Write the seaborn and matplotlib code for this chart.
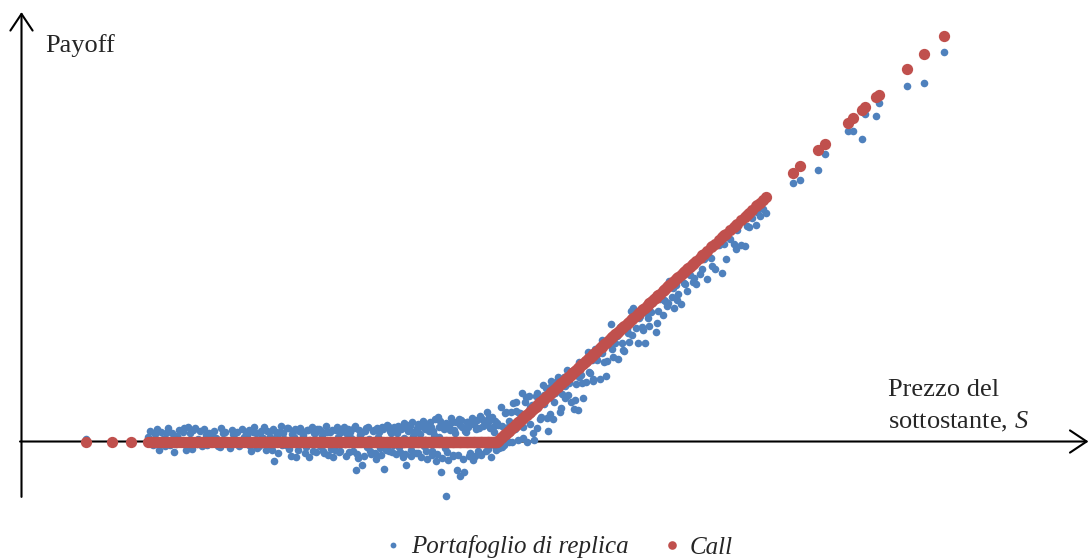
import numpy as np
import pandas as pd
import matplotlib
matplotlib.use("Agg")
import matplotlib.pyplot as plt
from matplotlib.lines import Line2D
import seaborn as sns

# Simulated underlying prices at expiry and value of the replicating portfolio
strike = 100.0

spot = [
    17.8, 23.0, 26.8,
    30.2, 30.9, 31.6, 32.4, 33.1, 33.8, 34.6, 35.3, 36.0, 36.7,
    37.4, 38.1, 38.9, 39.5, 40.2, 41.0, 41.7, 42.3, 43.0, 43.8,
    44.5, 45.1, 45.8, 46.6, 47.2, 47.9, 48.6, 49.3,
    50.0, 50.5, 51.1, 51.6, 52.0, 52.6, 53.1, 53.5, 54.0, 54.6,
    55.0, 55.4, 56.0, 56.5, 56.9, 57.4, 58.0, 58.4, 58.9, 59.4,
    59.8, 60.3, 60.8, 61.2, 61.7, 62.2, 62.6, 63.1, 63.6, 64.0,
    64.5, 65.0, 65.4, 65.9, 66.3, 66.8, 67.2, 67.7, 68.1, 68.6,
    69.0, 69.5, 69.9, 70.4, 70.8, 71.3, 71.8, 72.2, 72.6, 73.0,
    73.5, 73.9, 74.4, 74.8, 75.3, 75.7, 76.1, 76.6, 77.0, 77.4,
    77.9, 78.3, 78.8, 79.2, 79.6,
    80.0, 80.4, 80.7, 81.1, 81.4, 81.8, 82.1, 82.5, 82.8, 83.2,
    83.5, 83.9, 84.2, 84.6, 84.9, 85.3, 85.6, 86.0, 86.3, 86.7,
    87.0, 87.4, 87.7, 88.1, 88.4, 88.8, 89.1, 89.5, 89.8, 90.2,
    90.5, 90.9, 91.2, 91.6, 91.9, 92.3, 92.6, 93.0, 93.3, 93.7,
    94.0, 94.4, 94.7, 95.1, 95.4, 95.8, 96.1, 96.5, 96.8, 97.2,
    97.5, 97.9, 98.2, 98.6, 98.9, 99.3, 99.6,
    100.0, 100.3, 100.7, 101.0, 101.4, 101.7, 102.1, 102.4, 102.8, 103.1,
    103.5, 103.8, 104.2, 104.5, 104.9, 105.2, 105.6, 105.9, 106.3, 106.6,
    107.0, 107.3, 107.7, 108.0, 108.4, 108.7, 109.1, 109.4, 109.8, 110.1,
    110.5, 110.8, 111.2, 111.5, 111.9, 112.2, 112.6, 112.9, 113.3, 113.6,
    114.0, 114.3, 114.7, 115.0, 115.4, 115.7, 116.1, 116.4, 116.8, 117.1,
    117.5, 117.8, 118.2, 118.5, 118.9, 119.2, 119.6,
    120.0, 120.5, 120.9, 121.4, 121.8, 122.3, 122.7, 123.2, 123.6, 124.1,
    124.5, 125.0, 125.4, 125.9, 126.3, 126.8, 127.2, 127.7, 128.1, 128.6,
    129.0, 129.5, 129.9, 130.4, 130.8, 131.3, 131.7, 132.2, 132.6, 133.1,
    133.5, 134.0, 134.4, 134.9, 135.3, 135.8, 136.2, 136.7, 137.1, 137.6,
    138.0, 138.5, 138.9, 139.4, 139.8,
    140.5, 141.3, 142.0, 142.8, 143.5, 144.3, 145.0, 145.8, 146.5, 147.3,
    148.0, 148.8, 149.5, 150.3, 151.0, 151.8, 152.5, 153.2, 153.8,
    159.2, 160.6, 164.2, 165.6, 170.2, 171.2, 173.0, 173.6, 175.8, 176.4,
    182.0, 185.4, 189.4,
    # second batch of paths
    30.5, 31.2, 32.0, 32.8, 33.5, 34.2, 35.0, 35.7, 36.4, 37.1,
    37.8, 38.5, 39.2, 39.9, 40.6, 41.3, 42.0, 42.7, 43.4, 44.1,
    44.8, 45.5, 46.2, 46.9, 47.6, 48.3, 49.0, 49.7,
    50.3, 50.8, 51.3, 51.8, 52.3, 52.8, 53.3, 53.8, 54.3, 54.8,
    55.2, 55.7, 56.2, 56.7, 57.2, 57.7, 58.2, 58.7, 59.2, 59.6,
    60.1, 60.6, 61.0, 61.5, 62.0, 62.4, 62.9, 63.4, 63.8, 64.3,
    64.8, 65.2, 65.7, 66.1, 66.6, 67.0, 67.5, 67.9, 68.4, 68.8,
    69.3, 69.7, 70.2, 70.6, 71.1, 71.5, 72.0, 72.4, 72.8, 73.3,
    73.7, 74.2, 74.6, 75.1, 75.5, 75.9, 76.4, 76.8, 77.2, 77.7,
    78.1, 78.6, 79.0, 79.4, 79.8,
    80.2, 80.6, 80.9, 81.3, 81.6, 82.0, 82.3, 82.7, 83.0, 83.4,
    83.7, 84.1, 84.4, 84.8, 85.1, 85.5, 85.8, 86.2, 86.5, 86.9,
    87.2, 87.6, 87.9, 88.3, 88.6, 89.0, 89.3, 89.7, 90.0, 90.4,
    90.7, 91.1, 91.4, 91.8, 92.1, 92.5, 92.8, 93.2, 93.5, 93.9,
    94.2, 94.6, 94.9, 95.3, 95.6, 96.0, 96.3, 96.7, 97.0, 97.4,
    97.7, 98.1, 98.4, 98.8, 99.1, 99.5, 99.8,
    100.2, 100.9, 101.6, 102.3, 103.0, 103.7, 104.4, 105.1, 105.8, 106.5,
    107.2, 107.9, 108.6, 109.3, 110.0, 110.7, 111.4, 112.1, 112.8, 113.5,
    114.2, 114.9, 115.6, 116.3, 117.0, 117.7, 118.4, 119.1, 119.8,
    121.0, 122.0, 123.0, 124.0, 125.2, 126.1, 127.0, 128.3, 129.2, 130.1,
    131.0, 132.0, 133.3, 134.2, 135.1, 136.0, 137.3, 138.2, 139.1, 141.0,
    143.0, 145.4, 147.7, 150.0, 152.0,
]

replica = [
    0.6, 0.1, -0.2,
    0.9, -0.4, 1.6, -1.8, 0.5, 1.9, -0.7, -2.3, 1.2, 0.3,
    3.0, 3.1, -1.7, 2.9, 0.6, -0.9, 1.4, 1.8, -0.3, 0.8,
    -1.2, 1.9, 0.4, -1.5, 1.7, 2.0, -0.6, 1.1,
    1.5, -1.0, 2.2, 0.2, -1.4, 1.8, 0.7, -0.5, 2.4, 1.0,
    -1.9, -4.4, 1.3, 2.1, -0.8, 0.5, 3.0, -1.6, 1.7, 0.9,
    -3.5, 2.3, -0.2, 1.5, -1.3, 2.6, 0.4, -2.1, 1.9, 2.8,
    -0.9, 1.2, -2.5, 2.2, 0.1, -1.7, -3.5, 2.5, 1.1, -2.0,
    2.7, -0.6, 1.6, -2.4, 0.8, 2.9, -6.2, -3.7, 1.4, -5.1,
    2.4, -1.1, 0.6, -2.8, 2.6, -3.9, 1.0, -1.5, 3.1, -6.1,
    3.6, -2.2, 1.8, -0.7, 2.5,
    1.9, -1.2, 2.8, -3.5, 0.7, -5.1, 2.3, 3.4, -1.8, 1.2,
    -0.4, 2.9, -2.6, 1.6, 3.8, -1.0, 0.3, -3.9, 2.4, 3.2,
    -2.2, 1.5, -4.3, 5.3, 0.9, -6.8, 3.7, -1.4, -12.1, -4.1,
    2.6, 4.2, -2.9, 1.8, -6.2, 5.0, -7.7, 3.3, -6.8, 2.1,
    4.4, -3.2, 3.9, -4.1, 4.8, 2.7, -2.0, 5.6, -3.0, 3.5,
    4.6, 6.4, -1.6, 3.0, 5.5, 2.2, -0.9,
    4.1, -1.5, 7.6, 3.5, -0.8, 6.5, 3.3, -0.2, 6.4, 8.4,
    2.8, 6.7, 0.4, 6.2, 10.6, 3.3, 8.8, -0.1, 10.1, 3.8,
    8.1, 0.4, 10.1, 3.0, 9.0, 5.4, 12.5, 8.2, 11.7, 2.4,
    6.0, 13.4, 4.9, 10.7, 13.4, 14.2, 6.5, 10.5, 14.2, 9.6,
    15.8, 12.8, 8.8, 15.5, 7.2, 12.6, 7.0, 17.6, 14.6, 9.5,
    17.1, 13.1, 19.8, 15.0, 17.9, 13.8, 20.4,
    17.9, 13.7, 22.3, 17.5, 14.4, 21.7, 25.8, 18.6, 21.8, 18.1,
    25.2, 21.8, 19.9, 24.8, 21.9, 28.7, 29.4, 25.0, 21.7, 27.7,
    25.2, 21.6, 28.3, 25.4, 28.5, 31.9, 24.1, 28.8, 31.4, 27.9,
    30.9, 29.9, 35.3, 31.9, 29.5, 34.4, 32.5, 30.3, 36.6, 34.7,
    33.2, 36.6, 39.3, 36.1, 34.7,
    36.8, 40.1, 35.9, 40.4, 37.9, 43.3, 37.1, 40.1, 44.5, 43.4,
    46.5, 43.3, 43.1, 47.2, 49.3, 47.6, 49.7, 51.3, 50.3,
    57.0, 57.5, 59.8, 63.4, 68.4, 68.3, 66.6, 72.1, 71.8, 74.6,
    78.3, 79.0, 85.7,
    # second batch of paths
    2.4, -0.7, 2.7, 2.1, -0.9, 3.0, 1.8, -0.5, 2.5, 2.2,
    -1.9, 1.9, 2.6, -0.6, 2.3, 2.8, -0.8, 1.7, 2.4, -1.0,
    2.9, 2.0, -0.4, 2.6, 1.9, -0.9, 2.7, 2.2,
    2.6, -2.2, 3.1, 1.9, -0.9, 2.4, 3.3, -1.8, 2.0, -1.1,
    2.8, 2.2, -2.5, 3.4, 1.8, -0.7, 2.9, -3.2, 2.3, 2.7,
    -1.9, 3.0, 2.1, -2.6, 2.5, -3.4, 3.2, 1.9, -2.3, 2.8,
    2.4, -2.0, 3.5, -2.9, 2.2, 2.6, -1.8, 3.1, -2.4, 2.0,
    3.3, -3.1, 2.7, 2.1, -2.2, 3.4, -2.7, 2.5, 1.9, -3.3,
    2.9, 3.2, -2.1, 2.4, -2.6, 3.0, 2.2, -3.0, 2.8, -1.9,
    3.5, 2.3, -2.4, 3.1, -2.8,
    3.4, -2.3, 2.9, 4.1, -2.8, 3.6, 2.5, -3.1, 4.4, 2.2,
    -2.6, 3.9, 3.1, -3.4, 4.6, 2.7, -2.1, 3.8, 4.2, -3.0,
    2.4, 4.9, -2.7, 3.3, 4.5, -3.6, 2.8, 4.0, -2.4, 3.5,
    5.1, -3.2, 2.6, 4.3, -2.9, 3.7, 4.8, -3.8, 2.3, 4.4,
    3.2, -2.5, 5.2, 3.9, -3.3, 4.7, 2.9, -2.8, 5.0, 3.6,
    -2.2, 4.2, 5.4, -3.5, 3.1, 4.6, -1.9,
    3.7, -1.1, 6.2, 4.5, -0.1, 8.7, 6.2, 0.7, 9.7, 7.7,
    1.9, 10.6, 5.0, 10.2, 5.2, 12.2, 8.7, 12.5, 7.3, 12.2,
    10.3, 15.6, 9.2, 14.3, 12.8, 17.9, 15.4, 13.3, 18.7,
    19.5, 17.8, 20.4, 23.2, 20.2, 24.0, 23.5, 27.3, 24.6, 27.3,
    30.5, 26.1, 31.1, 30.5, 33.8, 31.1, 34.9, 37.3, 35.1, 38.1,
    38.6, 43.6, 42.5, 47.5, 50.6,
]

assert len(spot) == len(replica)

series_labels = ["Portafoglio di replica", "Call"]
x_label = ["Prezzo del", "sottostante, $S$"]
y_label = "Payoff"

blue = "#4F81BD"
red = "#C0504D"

df = pd.DataFrame({"spot": spot, "replica": replica})
# payoff of the call at expiry for each simulated price
df["call"] = np.maximum(df["spot"] - strike, 0.0)

sns.set_style("white")
plt.rcParams["font.family"] = ["Liberation Serif", "DejaVu Serif"]
plt.rcParams["mathtext.fontset"] = "custom"
plt.rcParams["mathtext.it"] = "Liberation Serif:italic"
plt.rcParams["mathtext.rm"] = "Liberation Serif"

fig = plt.figure(figsize=(10.9, 5.6), dpi=100)
ax = fig.add_axes([0, 0, 1, 1])

sns.scatterplot(data=df, x="spot", y="replica", color=blue, s=30,
                linewidth=0, ax=ax, zorder=2)
sns.scatterplot(data=df, x="spot", y="call", color=red, s=66,
                linewidth=0, ax=ax, zorder=3)

ax.set_xlim(0.6, 218.6)
ax.set_ylim(-26.1, 97.25)
ax.set_axis_off()

# hand-drawn style axes with open arrow heads
arrow = dict(arrowstyle="->,head_length=0.6,head_width=0.4", lw=1.5,
             color="black", shrinkA=0, shrinkB=0, mutation_scale=20)
ax.annotate("", xy=(218.3, 0), xytext=(4.6, 0), arrowprops=arrow, zorder=1)
ax.annotate("", xy=(4.9, 94.6), xytext=(4.9, -12.2), arrowprops=arrow, zorder=1)

W, H = 1090, 560
fig.text(45 / W, 1 - 52 / H, y_label, fontsize=19, va="baseline", ha="left")
fig.text(888 / W, 1 - 396 / H, x_label[0], fontsize=19, va="baseline", ha="left")
fig.text(888 / W, 1 - 428 / H, x_label[1], fontsize=19, va="baseline", ha="left")

handles = [
    Line2D([], [], marker="o", linestyle="none", markersize=4.2,
           markerfacecolor=blue, markeredgewidth=0),
    Line2D([], [], marker="o", linestyle="none", markersize=6.2,
           markerfacecolor=red, markeredgewidth=0),
]
leg = fig.legend(handles, series_labels, loc="center",
                 bbox_to_anchor=(560 / W, 1 - 547 / H), ncol=2, frameon=False,
                 prop={"family": "Liberation Serif", "style": "italic", "size": 18},
                 handlelength=0.5, handletextpad=0.45, columnspacing=1.5,
                 borderpad=0, borderaxespad=0)

fig.savefig("out.png", dpi=100)
